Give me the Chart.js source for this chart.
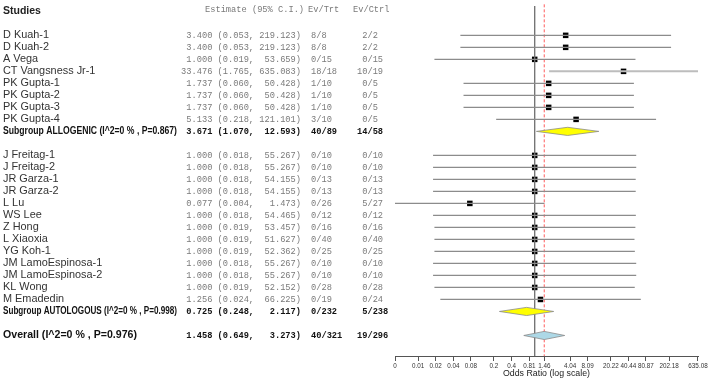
<!DOCTYPE html>
<html>
<head>
    <title>Forest plot</title>
    <script src="https://cdn.jsdelivr.net/npm/chart.js"></script>
    <style>
        body { margin: 0; padding: 0; background: #ffffff; overflow: hidden; }
        #wrap { position: relative; width: 709px; height: 380px; }
    </style>
</head>
<body>
    <div id="wrap"><canvas id="forest"></canvas></div>

    <script>
        // ALLOGENIC studies
        const alloNames = ['D Kuah-1', 'D Kuah-2', 'A Vega', 'CT Vangsness Jr-1', 'PK Gupta-1', 'PK Gupta-2', 'PK Gupta-3', 'PK Gupta-4'];
        const alloEst = [3.400, 3.400, 1.000, 33.476, 1.737, 1.737, 1.737, 5.133];
        const alloLo = [0.053, 0.053, 0.019, 1.765, 0.060, 0.060, 0.060, 0.218];
        const alloHi = [219.123, 219.123, 53.659, 635.083, 50.428, 50.428, 50.428, 121.101];
        const alloTrt = ['8/8', '8/8', '0/15', '18/18', '1/10', '1/10', '1/10', '3/10'];
        const alloCtrl = ['2/2', '2/2', '0/15', '10/19', '0/5', '0/5', '0/5', '0/5'];

        // AUTOLOGOUS studies
        const autoNames = ['J Freitag-1', 'J Freitag-2', 'JR Garza-1', 'JR Garza-2', 'L Lu', 'WS Lee', 'Z Hong', 'L Xiaoxia', 'YG Koh-1', 'JM LamoEspinosa-1', 'JM LamoEspinosa-2', 'KL Wong', 'M Emadedin'];
        const autoEst = [1.000, 1.000, 1.000, 1.000, 0.077, 1.000, 1.000, 1.000, 1.000, 1.000, 1.000, 1.000, 1.256];
        const autoLo = [0.018, 0.018, 0.018, 0.018, 0.004, 0.018, 0.019, 0.019, 0.019, 0.018, 0.018, 0.019, 0.024];
        const autoHi = [55.267, 55.267, 54.155, 54.155, 1.473, 54.465, 53.457, 51.627, 52.362, 55.267, 55.267, 52.152, 66.225];
        const autoTrt = ['0/10', '0/10', '0/13', '0/13', '0/26', '0/12', '0/16', '0/40', '0/25', '0/10', '0/10', '0/28', '0/19'];
        const autoCtrl = ['0/10', '0/10', '0/13', '0/13', '5/27', '0/12', '0/16', '0/40', '0/25', '0/10', '0/10', '0/28', '0/24'];

        // pooled results: ALLOGENIC, AUTOLOGOUS, overall
        const pooledNames = ['Subgroup ALLOGENIC (I^2=0 % , P=0.867)', 'Subgroup AUTOLOGOUS (I^2=0 % , P=0.998)', 'Overall (I^2=0 % , P=0.976)'];
        const pooledEst = [3.671, 0.725, 1.458];
        const pooledLo = [1.070, 0.248, 0.649];
        const pooledHi = [12.593, 2.117, 3.273];
        const pooledTrt = ['40/89', '0/232', '40/321'];
        const pooledCtrl = ['14/58', '5/238', '19/296'];

        // x axis ticks
        const tickVals = [0.004, 0.01, 0.02, 0.04, 0.08, 0.2, 0.4, 0.81, 1.46, 4.04, 8.09, 20.22, 40.44, 80.87, 202.18, 635.08];
        const tickLabels = ['0', '0.01', '0.02', '0.04', '0.08', '0.2', '0.4', '0.81', '1.46', '4.04', '8.09', '20.22', '40.44', '80.87', '202.18', '635.08'];

        // build the row table (allogenic, subgroup, gap, autologous, subgroup, gap, overall)
        const rows = [];
        const addStudies = (names, est, lo, hi, trt, ctrl) => {
            names.forEach((n, i) => rows.push({ name: n, est: est[i], lo: lo[i], hi: hi[i], trt: trt[i], ctrl: ctrl[i], kind: 'study' }));
        };
        const addPooled = (i, kind) => {
            rows.push({ name: pooledNames[i], est: pooledEst[i], lo: pooledLo[i], hi: pooledHi[i], trt: pooledTrt[i], ctrl: pooledCtrl[i], kind: kind });
        };
        addStudies(alloNames, alloEst, alloLo, alloHi, alloTrt, alloCtrl);
        addPooled(0, 'sub');
        rows.push(null);
        addStudies(autoNames, autoEst, autoLo, autoHi, autoTrt, autoCtrl);
        addPooled(1, 'sub');
        rows.push(null);
        addPooled(2, 'overall');

        const datasets = [];
        const squares = [];
        const dh = 0.34; // diamond half height in rows

        rows.forEach((r, i) => {
            if (!r) return;
            if (r.kind === 'study') {
                const light = r.name === 'CT Vangsness Jr-1';
                datasets.push({
                    data: [{ x: r.lo, y: i }, { x: r.hi, y: i }],
                    showLine: true,
                    borderColor: light ? '#bdbdbd' : '#8c8c8c',
                    borderWidth: light ? 2 : 1.2,
                    pointRadius: 0
                });
                squares.push({ x: r.est, y: i });
            } else {
                datasets.push({
                    data: [
                        { x: r.lo, y: i }, { x: r.est, y: i - dh },
                        { x: r.hi, y: i }, { x: r.est, y: i + dh },
                        { x: r.lo, y: i }
                    ],
                    showLine: true,
                    fill: 'shape',
                    backgroundColor: r.kind === 'overall' ? '#add8e6' : '#ffff00',
                    borderColor: '#8a8a8a',
                    borderWidth: 0.8,
                    pointRadius: 0,
                    tension: 0
                });
            }
        });

        // null line and overall estimate line
        datasets.push({
            data: [{ x: 1, y: -2.45 }, { x: 1, y: 30 }],
            showLine: true, borderColor: '#6e6e6e', borderWidth: 1.3, pointRadius: 0
        });
        datasets.push({
            data: [{ x: pooledEst[2], y: -3 }, { x: pooledEst[2], y: 30 }],
            showLine: true, borderColor: '#ff5c5c', borderWidth: 1, borderDash: [3, 2], pointRadius: 0
        });
        datasets.push({
            data: squares,
            pointStyle: 'rect',
            pointRadius: 3.9,
            pointBackgroundColor: '#000000',
            pointBorderWidth: 0
        });

        const SANS = "'Liberation Sans', Arial, sans-serif";
        const MONO = "'Liberation Mono', 'Courier New', monospace";

        const tablePlugin = {
            id: 'table',
            afterDraw(chart) {
                const c = chart.ctx;
                const ys = chart.scales.y;
                c.save();
                c.textBaseline = 'middle';

                const hy = ys.getPixelForValue(-2.1);
                c.fillStyle = '#222';
                c.font = 'bold 10.5px ' + SANS;
                c.textAlign = 'left';
                c.fillText('Studies', 3, hy + 1);
                c.fillStyle = '#7a7a7a';
                c.font = '8.7px ' + MONO;
                c.fillText('Estimate (95% C.I.)', 205, hy);
                c.fillText('Ev/Trt', 308, hy);
                c.fillText('Ev/Ctrl', 353, hy);

                rows.forEach((r, i) => {
                    if (!r) return;
                    const y = ys.getPixelForValue(i);
                    const bold = r.kind !== 'study';
                    c.textAlign = 'left';
                    c.fillStyle = bold ? '#111' : '#333';
                    c.font = (bold ? 'bold 10.6px ' : '10.9px ') + SANS;
                    c.fillText(r.name, 3, y, 174);

                    c.fillStyle = bold ? '#111' : '#7a7a7a';
                    c.font = (bold ? 'bold ' : '') + '8.7px ' + MONO;
                    const est = r.est.toFixed(3) + ' (' + r.lo.toFixed(3) + ', ' + r.hi.toFixed(3).padStart(7) + ')';
                    c.textAlign = 'right';
                    c.fillText(est, 301, y);
                    c.textAlign = 'left';
                    c.fillText(r.trt, 311, y);
                    const p = r.ctrl.split('/');
                    c.fillText(p[0].padStart(2) + '/' + p[1], 357, y);
                });
                c.restore();
            }
        };

        new Chart(document.getElementById('forest'), {
            type: 'scatter',
            data: { datasets: datasets },
            plugins: [tablePlugin],
            options: {
                responsive: true,
                maintainAspectRatio: false,
                animation: false,
                layout: { padding: { left: 395, right: 11, top: 0, bottom: 0 } },
                plugins: { legend: { display: false }, tooltip: { enabled: false } },
                scales: {
                    x: {
                        type: 'logarithmic',
                        min: 0.004,
                        max: 635.083,
                        afterBuildTicks: s => { s.ticks = tickVals.map(v => ({ value: v })); },
                        afterFit: s => { s.height = 24; },
                        border: { display: true, color: '#555', width: 1 },
                        grid: { drawOnChartArea: false, drawTicks: true, tickLength: 5, tickColor: '#555' },
                        ticks: {
                            autoSkip: false,
                            maxRotation: 0,
                            padding: 1,
                            color: '#333',
                            font: { size: 6.3, family: SANS },
                            callback: (v, i) => tickLabels[i]
                        },
                        title: {
                            display: true,
                            text: 'Odds Ratio (log scale)',
                            color: '#222',
                            font: { size: 8.8, family: SANS },
                            padding: { top: 0, bottom: 1 }
                        }
                    },
                    y: {
                        display: false,
                        reverse: true,
                        min: -2.611,
                        max: 26.71
                    }
                }
            }
        });
    </script>
</body>
</html>
